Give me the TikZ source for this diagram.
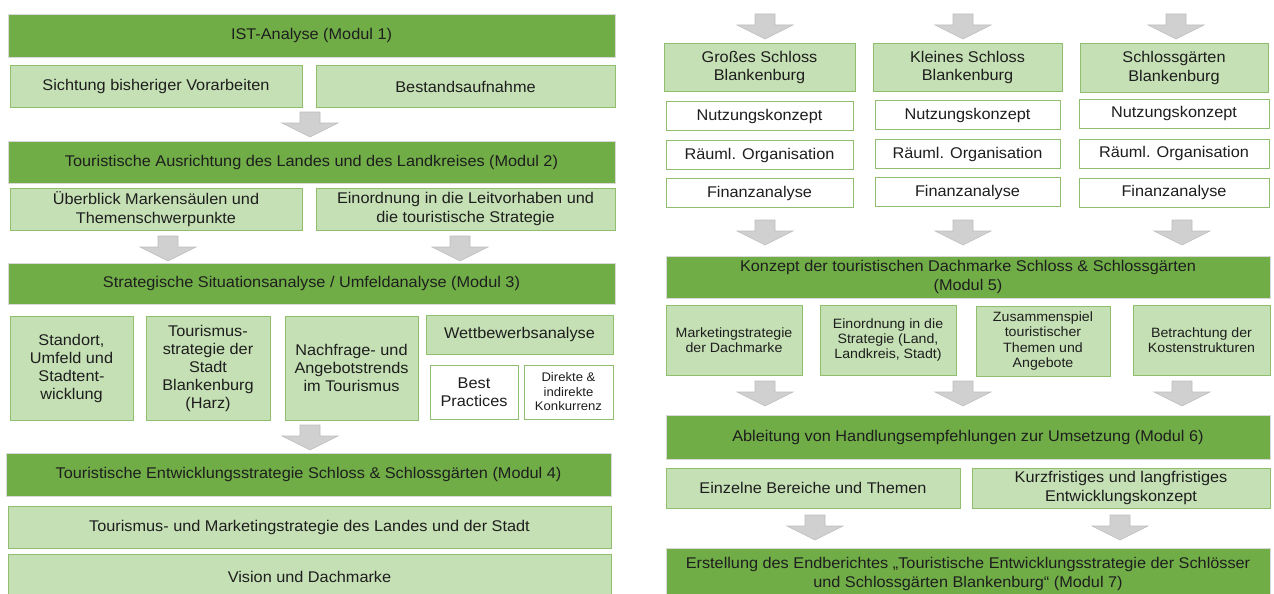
\documentclass[tikz,border=0pt]{standalone}
\usepackage{fontspec}
\setmainfont[FakeStretch=1.05]{Liberation Sans}
\usetikzlibrary{positioning}

\definecolor{dkgreen}{HTML}{70AD47}
\definecolor{ltgreen}{HTML}{C5E0B4}
\definecolor{edgegreen}{HTML}{8FBF6E}
\definecolor{arrowgray}{HTML}{D0D0D0}
\definecolor{arrowedge}{HTML}{BDBDBD}
\definecolor{txt}{HTML}{1E1E1E}

\begin{document}
\begin{tikzpicture}[
    x=1pt, y=-1pt,
    font=\fontsize{15.5}{18.5}\selectfont,
    % Box styles
    modbox/.style={draw=gray!30, fill=dkgreen, text=txt, align=center, inner sep=2pt, line width=0.8pt},
    subbox/.style={draw=edgegreen, fill=ltgreen, text=txt, align=center, inner sep=2pt, line width=1pt},
    whitebox/.style={draw=edgegreen, fill=white, text=txt, align=center, inner sep=2pt, line width=1pt},
    halfl/.style={minimum width=292pt, minimum height=41pt},
    halfr/.style={minimum width=299pt, minimum height=41pt},
    schlossbox/.style={minimum height=48pt},
    listbox/.style={minimum height=29pt},
    % Gray block arrow
    pics/downarrow/.style={code={
        \draw[draw=arrowedge, fill=arrowgray, line width=0.6pt]
            (-10,0) -- (10,0) -- (10,11) -- (28,11) -- (0,25) -- (-28,11) -- (-10,11) -- cycle;}}
]
\useasboundingbox (0,0) rectangle (1274,594);
\clip (0,0) rectangle (1274,594);

% ========== LEFT: Modul 1 ==========
\node[modbox, minimum width=607pt, minimum height=43pt] (m1) at (311.5,35.5) {IST-Analyse (Modul 1)};
\node[subbox, halfl] (s1a) at (156,86.5) {Sichtung bisheriger Vorarbeiten};
\node[subbox, halfr] (s1b) at (465.5,86.5) {Bestandsaufnahme};

\pic (a1) at (310,112) {downarrow};

% ========== LEFT: Modul 2 ==========
\node[modbox, minimum width=607pt, minimum height=42pt] (m2) at (311.5,162) {Touristische Ausrichtung des Landes und des Landkreises (Modul 2)};
\node[subbox, halfl, minimum height=42pt] (s2a) at (156,209) {Überblick Markensäulen und\\Themenschwerpunkte};
\node[subbox, halfr, minimum height=42pt] (s2b) at (465.5,209) {Einordnung in die Leitvorhaben und\\die touristische Strategie};

\pic (a2a) at (168,236) {downarrow};
\pic (a2b) at (460,236) {downarrow};

% ========== LEFT: Modul 3 ==========
\node[modbox, minimum width=607pt, minimum height=41pt] (m3) at (311.5,283.5) {Strategische Situationsanalyse / Umfeldanalyse (Modul 3)};
\begin{scope}[font=\fontsize{15.5}{18}\selectfont]
\node[subbox, minimum width=123pt, minimum height=104pt] (s3a) at (71.5,368) {Standort,\\Umfeld und\\Stadtent-\\wicklung};
\node[subbox, minimum width=124pt, minimum height=104pt] (s3b) at (208,368) {Tourismus-\\strategie der\\Stadt\\Blankenburg\\(Harz)};
\node[subbox, minimum width=133pt, minimum height=104pt] (s3c) at (351.5,368) {Nachfrage- und\\Angebotstrends\\im Tourismus};
\node[subbox, minimum width=187pt, minimum height=39pt] (s3d) at (519.5,334.5) {Wettbewerbsanalyse};
\node[whitebox, minimum width=88pt, minimum height=54pt] (s3e) at (474,392) {Best\\Practices};
\end{scope}
\node[whitebox, minimum width=89pt, minimum height=54pt, font=\fontsize{12.5}{14.5}\selectfont] (s3f) at (568.5,392) {Direkte \&\\indirekte\\Konkurrenz};

\pic (a3) at (310,425) {downarrow};

% ========== LEFT: Modul 4 ==========
\node[modbox, minimum width=605pt, minimum height=43pt] (m4) at (308.5,474.5) {Touristische Entwicklungsstrategie Schloss \& Schlossgärten (Modul 4)};
\node[subbox, minimum width=603pt, minimum height=42pt] (s4a) at (309.5,527) {Tourismus- und Marketingstrategie des Landes und der Stadt};
\node[subbox, minimum width=603pt, minimum height=46pt] (s4b) at (309.5,577) {Vision und Dachmarke};

% ========== RIGHT: Schloss columns ==========
\pic (a4a) at (765,14) {downarrow};
\pic (a4b) at (963,14) {downarrow};
\pic (a4c) at (1176,14) {downarrow};

\node[subbox, schlossbox, minimum width=191pt] (g1) at (759.5,67.5) {Großes Schloss\\Blankenburg};
\node[subbox, schlossbox, minimum width=189pt] (g2) at (967.5,67.5) {Kleines Schloss\\Blankenburg};
\node[subbox, schlossbox, minimum width=188pt] (g3) at (1174,68) {Schlossgärten\\Blankenburg};

\node[whitebox, listbox, minimum width=187pt, below=9pt of g1] (n1) {Nutzungskonzept};
\node[whitebox, listbox, minimum width=187pt, below=9pt of n1] (r1) {Räuml. Organisation};
\node[whitebox, listbox, minimum width=187pt, below=8pt of r1] (f1) {Finanzanalyse};

\node[whitebox, listbox, minimum width=185pt, below=8pt of g2] (n2) {Nutzungskonzept};
\node[whitebox, listbox, minimum width=185pt, below=9pt of n2] (r2) {Räuml. Organisation};
\node[whitebox, listbox, minimum width=185pt, below=8pt of r2] (f2) {Finanzanalyse};

\node[whitebox, listbox, minimum width=190pt, below=6pt of g3] (n3) {Nutzungskonzept};
\node[whitebox, listbox, minimum width=190pt, below=10pt of n3] (r3) {Räuml. Organisation};
\node[whitebox, listbox, minimum width=190pt, below=9pt of r3] (f3) {Finanzanalyse};

\pic (a5a) at (765,220) {downarrow};
\pic (a5b) at (963,220) {downarrow};
\pic (a5c) at (1182,220) {downarrow};

% ========== RIGHT: Modul 5 ==========
\node[modbox, minimum width=604pt, minimum height=42pt] (m5) at (968,277) {Konzept der touristischen Dachmarke Schloss \& Schlossgärten\\(Modul 5)};
\begin{scope}[font=\fontsize{13.5}{15.3}\selectfont]
\node[subbox, minimum width=136pt, minimum height=70pt] (s5a) at (734,340) {Marketingstrategie\\der Dachmarke};
\node[subbox, minimum width=136pt, minimum height=70pt] (s5b) at (888,340) {Einordnung in die\\Strategie (Land,\\Landkreis, Stadt)};
\node[subbox, minimum width=134pt, minimum height=70pt] (s5c) at (1043,341) {Zusammenspiel\\touristischer\\Themen und\\Angebote};
\node[subbox, minimum width=137pt, minimum height=70pt] (s5d) at (1201.5,340) {Betrachtung der\\Kostenstrukturen};
\end{scope}

\pic (a6a) at (765,381) {downarrow};
\pic (a6b) at (963,381) {downarrow};
\pic (a6c) at (1182,381) {downarrow};

% ========== RIGHT: Modul 6 ==========
\node[modbox, minimum width=604pt, minimum height=44pt] (m6) at (968,437) {Ableitung von Handlungsempfehlungen zur Umsetzung (Modul 6)};
\node[subbox, minimum width=294pt, minimum height=40pt] (s6a) at (813,488) {Einzelne Bereiche und Themen};
\node[subbox, minimum width=298pt, minimum height=40pt] (s6b) at (1121,488) {Kurzfristiges und langfristiges\\Entwicklungskonzept};

\pic (a7a) at (815,515) {downarrow};
\pic (a7b) at (1120,515) {downarrow};

% ========== RIGHT: Modul 7 ==========
\node[modbox, minimum width=604pt, minimum height=52pt] (m7) at (968,574) {Erstellung des Endberichtes „Touristische Entwicklungsstrategie der Schlösser\\und Schlossgärten Blankenburg“ (Modul 7)};

\end{tikzpicture}
\end{document}
